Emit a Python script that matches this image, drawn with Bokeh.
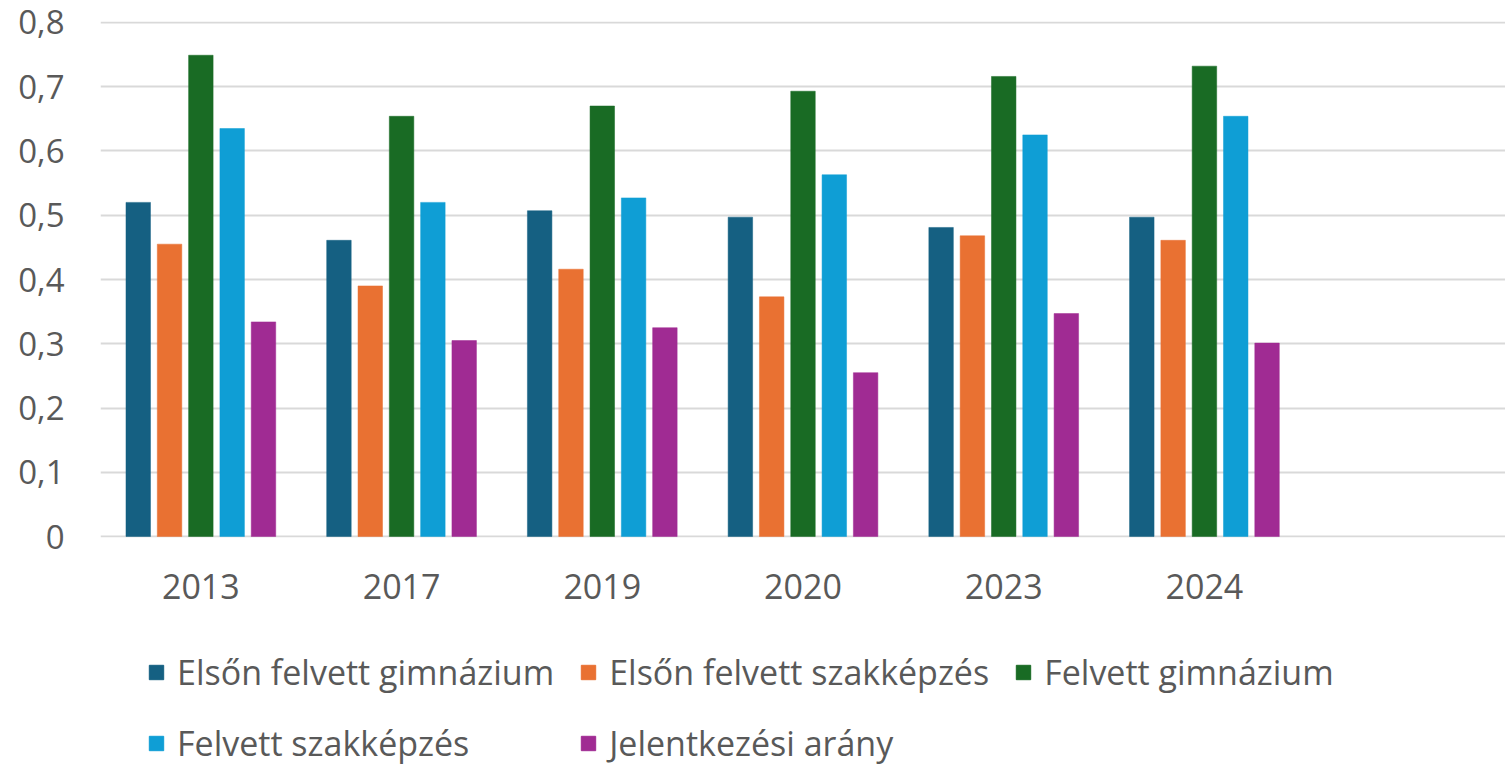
from bokeh.plotting import figure
from bokeh.layouts import column
from bokeh.models import ColumnDataSource, FactorRange, Legend, LegendItem, FixedTicker, Range1d
from bokeh.transform import dodge
from bokeh.embed import file_html
from bokeh.resources import INLINE

# ---- data ----
years = ["2013", "2017", "2019", "2020", "2023", "2024"]
elso_gimnazium = [0.520, 0.461, 0.507, 0.497, 0.481, 0.497]
elso_szakkepzes = [0.455, 0.390, 0.416, 0.373, 0.468, 0.461]
felvett_gimnazium = [0.749, 0.654, 0.670, 0.693, 0.716, 0.732]
felvett_szakkepzes = [0.635, 0.520, 0.527, 0.563, 0.625, 0.654]
jelentkezesi_arany = [0.334, 0.305, 0.325, 0.255, 0.347, 0.301]

series_names = ["Elsőn felvett gimnázium", "Elsőn felvett szakképzés",
                "Felvett gimnázium", "Felvett szakképzés", "Jelentkezési arány"]
series_keys = ["eg", "es", "fg", "fs", "ja"]
colors = ["#156082", "#E97132", "#196B24", "#0F9ED5", "#A02B93"]

y_ticks = [0, 0.1, 0.2, 0.3, 0.4, 0.5, 0.6, 0.7, 0.8]
y_tick_labels = ["0", "0,1", "0,2", "0,3", "0,4", "0,5", "0,6", "0,7", "0,8"]

# ---- build ----
source = ColumnDataSource(dict(year=years, eg=elso_gimnazium, es=elso_szakkepzes,
                               fg=felvett_gimnazium, fs=felvett_szakkepzes, ja=jelentkezesi_arany))

FONT = "Open Sans"
TXT = "#595959"

p = figure(width=1505, height=620, x_range=FactorRange(*years, " "),
           y_range=Range1d(-0.0015, 0.8015), output_backend="svg", toolbar_location=None,
           min_border_left=100, min_border_right=0, min_border_top=21, min_border_bottom=83)
p.outline_line_color = None
p.background_fill_color = "white"
p.border_fill_color = "white"

step = 0.156
bw = 0.122
for i, (key, col) in enumerate(zip(series_keys, colors)):
    off = (i - 2) * step
    p.vbar(x=dodge("year", off, range=p.x_range), top=key, width=bw, bottom=0,
           source=source, fill_color=col, line_color=col, line_width=0.5)

p.xgrid.grid_line_color = None
p.ygrid.grid_line_color = "#D9D9D9"
p.ygrid.grid_line_width = 2
p.ygrid.ticker = FixedTicker(ticks=y_ticks)

p.yaxis.ticker = FixedTicker(ticks=y_ticks)
p.yaxis.major_label_overrides = {t: l for t, l in zip(y_ticks, y_tick_labels)}
for ax in (p.xaxis[0], p.yaxis[0]):
    ax.axis_line_color = None
    ax.major_tick_line_color = None
    ax.minor_tick_line_color = None
    ax.major_label_text_font = FONT
    ax.major_label_text_color = TXT
p.yaxis.major_label_text_font_size = "33px"
p.xaxis.major_label_text_font_size = "34px"
p.yaxis.major_label_standoff = 30
p.xaxis.major_label_standoff = 19

# ---- legend figure (frames are aligned with the chart above) ----
lg = figure(width=1505, height=146, x_range=Range1d(0, 1), y_range=Range1d(0, 1),
            x_axis_type=None, y_axis_type=None, output_backend="svg", toolbar_location=None,
            min_border_left=100, min_border_right=0, min_border_top=0, min_border_bottom=0)
lg.outline_line_color = None
lg.xgrid.visible = False
lg.ygrid.visible = False
items = []
for name, col in zip(series_names, colors):
    # one off-screen swatch per series so the legend glyph gets its colour
    r = lg.vbar(x=[-10], top=[-10], bottom=[-11], width=0.1, fill_color=col, line_color=col)
    items.append(LegendItem(label=name, renderers=[r]))

legend = Legend(items=items, ncols=3, location=(47, 0), orientation="horizontal",
                label_text_font=FONT, label_text_font_size="34px", label_text_color=TXT,
                glyph_width=18, glyph_height=18, label_standoff=12, spacing=25,
                label_height=40, padding=0, margin=0,
                border_line_color=None, background_fill_alpha=0)
lg.add_layout(legend, "center")

layout = column(p, lg, spacing=0)
open("out.html", "w").write(file_html(layout, INLINE))
